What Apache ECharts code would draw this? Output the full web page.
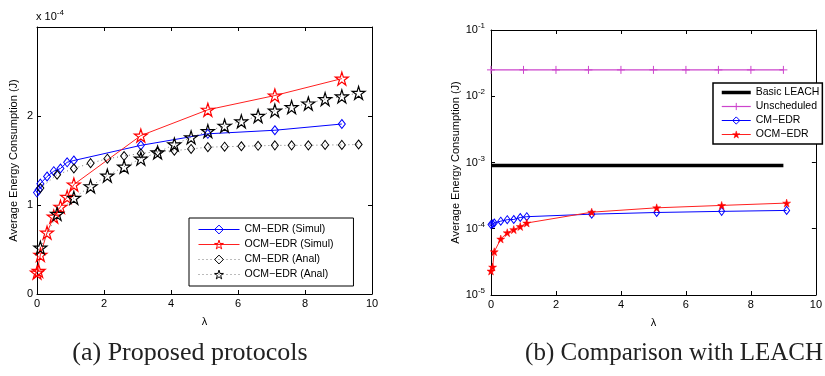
<!DOCTYPE html>
<html><head><meta charset="utf-8">
<script src="https://cdn.jsdelivr.net/npm/echarts@6/dist/echarts.min.js"></script>
<style>html,body{margin:0;padding:0;background:#fff}#c{width:825px;height:376px}</style>
</head><body><div id="c"></div>
<script>
// ---------- data (left panel values in units of 1e-4 J) ----------
const simX      = [0, 0.05, 0.1, 0.3, 0.5, 0.7, 0.9, 1.1, 3.1, 5.1, 7.1, 9.1];
const cmSimul   = [1.14, 1.17, 1.24, 1.32, 1.38, 1.41, 1.48, 1.50, 1.67, 1.80, 1.84, 1.91];
const ocmSimul  = [0.24, 0.26, 0.44, 0.69, 0.87, 0.98, 1.09, 1.23, 1.78, 2.07, 2.23, 2.42];
const analX     = [0.1, 0.6, 1.1, 1.6, 2.1, 2.6, 3.1, 3.6, 4.1, 4.6, 5.1, 5.6, 6.1, 6.6, 7.1, 7.6, 8.1, 8.6, 9.1, 9.6];
const cmAnal    = [1.19, 1.34, 1.41, 1.47, 1.52, 1.55, 1.58, 1.60, 1.61, 1.63, 1.65, 1.655, 1.66, 1.665, 1.67, 1.67, 1.67, 1.675, 1.675, 1.68];
const ocmAnal   = [0.52, 0.90, 1.08, 1.21, 1.33, 1.43, 1.52, 1.59, 1.68, 1.76, 1.83, 1.89, 1.94, 2.00, 2.06, 2.10, 2.14, 2.19, 2.22, 2.26];
// right panel (J)
const cmpX        = [0, 1, 2, 3, 4, 5, 6, 7, 8, 9];
const leachVals   = [9.0e-4, 9.0e-4, 9.0e-4, 9.0e-4, 9.0e-4, 9.0e-4, 9.0e-4, 9.0e-4, 9.0e-4, 9.0e-4];
const unschedVals = [0.025, 0.025, 0.025, 0.025, 0.025, 0.025, 0.025, 0.025, 0.025, 0.025];
const rCmVals     = [1.16e-4, 1.18e-4, 1.22e-4, 1.30e-4, 1.37e-4, 1.38e-4, 1.48e-4, 1.52e-4, 1.66e-4, 1.76e-4, 1.83e-4, 1.89e-4];
const rOcmVals    = [2.3e-5, 2.64e-5, 4.5e-5, 7.0e-5, 8.7e-5, 9.7e-5, 1.08e-4, 1.22e-4, 1.78e-4, 2.07e-4, 2.25e-4, 2.44e-4];
const leftYTicks  = [0, 1, 2];

const zip = (xs, ys) => xs.map((x, i) => [x, ys[i]]);
const STAR = 'path://M50,0L61.2,35.4L98.1,35.4L68.2,57.3L79.4,92.7L50,70.8L20.6,92.7L31.8,57.3L1.9,35.4L38.8,35.4Z';
const FONT = 'Liberation Sans';
const CLEAR = 'rgba(0,0,0,0)';
const sup = {b: {fontSize: 11, fontFamily: FONT, color: '#000'}, s: {fontSize: 8, fontFamily: FONT, color: '#000', padding: [0, 0, 8, 0]}};

const chart = echarts.init(document.getElementById('c'), null, {renderer: 'canvas'});
const axisBase = {
  axisLine: {show: true, onZero: false, lineStyle: {color: '#000', width: 1}},
  axisTick: {show: true, inside: true, length: 4, lineStyle: {color: '#000'}},
  splitLine: {show: false},
  axisLabel: {color: '#000', fontSize: 11, fontFamily: FONT}
};
const mirror = (o) => Object.assign({}, axisBase, {axisLabel: {show: false}}, o);
const nameStyle = {fontSize: 11, fontFamily: FONT, color: '#000'};

chart.setOption({
  animation: false,
  grid: [
    {left: 37, top: 27, width: 335, height: 267},
    {left: 491, top: 30, width: 335, height: 265}
  ],
  xAxis: [
    Object.assign({}, axisBase, {gridIndex: 0, type: 'value', min: 0, max: 10, interval: 2, position: 'bottom',
      name: 'λ', nameLocation: 'middle', nameGap: 22, nameTextStyle: nameStyle,
      axisLabel: {color: '#000', fontSize: 11, fontFamily: FONT, margin: 4}}),
    mirror({gridIndex: 0, type: 'value', min: 0, max: 10, interval: 2, position: 'top'}),
    Object.assign({}, axisBase, {gridIndex: 1, type: 'value', min: 0, max: 10, interval: 2, position: 'bottom',
      name: 'λ', nameLocation: 'middle', nameGap: 22, nameTextStyle: nameStyle,
      axisLabel: {color: '#000', fontSize: 11, fontFamily: FONT, margin: 4}}),
    mirror({gridIndex: 1, type: 'value', min: 0, max: 10, interval: 2, position: 'top'})
  ],
  yAxis: [
    Object.assign({}, axisBase, {gridIndex: 0, type: 'value', min: 0, max: 3, interval: 1, position: 'left',
      name: 'Average Energy Consumption (J)', nameLocation: 'middle', nameGap: 18, nameTextStyle: nameStyle,
      axisLabel: {color: '#000', fontSize: 11, fontFamily: FONT, margin: 4,
        formatter: v => leftYTicks.indexOf(v) >= 0 ? String(v) : ''}}),
    mirror({gridIndex: 0, type: 'value', min: 0, max: 3, interval: 1, position: 'right'}),
    Object.assign({}, axisBase, {gridIndex: 1, type: 'log', logBase: 10, min: 1e-5, max: 1e-1, position: 'left',
      name: 'Average Energy Consumption (J)', nameLocation: 'middle', nameGap: 26, nameTextStyle: nameStyle,
      axisLabel: {margin: 6, formatter: v => '{b|10}{s|' + Math.round(Math.log10(v)) + '}', rich: sup}}),
    mirror({gridIndex: 1, type: 'log', logBase: 10, min: 1e-5, max: 1e-1, position: 'right'})
  ],
  legend: [
    {orient: 'vertical', left: 189, top: 218, itemWidth: 41, itemHeight: 11, itemGap: 4,
     padding: [6, 20, 6, 9], borderColor: '#000', borderWidth: 1, backgroundColor: '#fff',
     textStyle: {fontSize: 10.5, fontFamily: FONT, color: '#000'},
     data: [
       {name: 'CM−EDR (Simul)', itemStyle: {color: CLEAR, borderColor: '#0000ff', borderWidth: 1}, lineStyle: {width: 1}},
       {name: 'OCM−EDR (Simul)', itemStyle: {color: CLEAR, borderColor: '#ff0000', borderWidth: 1}, lineStyle: {width: 1}},
       {name: 'CM−EDR (Anal)', itemStyle: {color: CLEAR, borderColor: '#000', borderWidth: 1}, lineStyle: {width: 1}},
       {name: 'OCM−EDR (Anal)', itemStyle: {color: CLEAR, borderColor: '#000', borderWidth: 1}, lineStyle: {width: 1}}
     ]},
    {orient: 'vertical', left: 713, top: 83, itemWidth: 29, itemHeight: 9, itemGap: 3,
     padding: [4, 3, 4, 7], borderColor: '#000', borderWidth: 1.5, backgroundColor: '#fff',
     textStyle: {fontSize: 10.5, fontFamily: FONT, color: '#000'},
     data: [
       {name: 'Basic LEACH', itemStyle: {color: CLEAR, borderColor: CLEAR, borderWidth: 0, opacity: 0}, lineStyle: {width: 3.5}},
       {name: 'Unscheduled', itemStyle: {color: CLEAR, borderColor: '#cc44cc', borderWidth: 1}, lineStyle: {width: 1.2}},
       {name: 'CM−EDR', itemStyle: {color: CLEAR, borderColor: '#0000ff', borderWidth: 1}, lineStyle: {width: 1}},
       {name: 'OCM−EDR', itemStyle: {color: '#ff0000', borderColor: '#ff0000', borderWidth: 0.5}, lineStyle: {width: 1}}
     ]}
  ],
  series: [
    {name: 'CM−EDR (Simul)', type: 'line', xAxisIndex: 0, yAxisIndex: 0, data: zip(simX, cmSimul),
     symbol: 'diamond', symbolSize: [7, 9], lineStyle: {color: '#0000ff', width: 1},
     itemStyle: {color: CLEAR, borderColor: '#0000ff', borderWidth: 1}},
    {name: 'OCM−EDR (Simul)', type: 'line', xAxisIndex: 0, yAxisIndex: 0, data: zip(simX, ocmSimul),
     symbol: STAR, symbolSize: 13, lineStyle: {color: '#ff2020', width: 1},
     itemStyle: {color: CLEAR, borderColor: '#ff0000', borderWidth: 1.2}},
    {name: 'CM−EDR (Anal)', type: 'line', xAxisIndex: 0, yAxisIndex: 0, data: zip(analX, cmAnal),
     symbol: 'diamond', symbolSize: [7, 9], lineStyle: {color: '#777', width: 1, type: [1, 3]},
     itemStyle: {color: CLEAR, borderColor: '#000', borderWidth: 1}},
    {name: 'OCM−EDR (Anal)', type: 'line', xAxisIndex: 0, yAxisIndex: 0, data: zip(analX, ocmAnal),
     symbol: STAR, symbolSize: 13, lineStyle: {color: '#777', width: 1, type: [1, 3]},
     itemStyle: {color: CLEAR, borderColor: '#000', borderWidth: 1.2}},

    {name: 'Basic LEACH', type: 'line', xAxisIndex: 2, yAxisIndex: 2, data: zip(cmpX, leachVals),
     symbol: 'none', lineStyle: {color: '#000', width: 3.5}, itemStyle: {color: '#000'}},
    {name: 'Unscheduled', type: 'line', xAxisIndex: 2, yAxisIndex: 2, data: zip(cmpX, unschedVals),
     symbol: 'path://M0,5L10,5M5,0L5,10', symbolSize: 8, lineStyle: {color: '#cc44cc', width: 1.2},
     itemStyle: {color: CLEAR, borderColor: '#cc44cc', borderWidth: 1}},
    {name: 'CM−EDR', type: 'line', xAxisIndex: 2, yAxisIndex: 2, data: zip(simX, rCmVals),
     symbol: 'diamond', symbolSize: [6, 8], lineStyle: {color: '#0000ff', width: 1},
     itemStyle: {color: CLEAR, borderColor: '#0000ff', borderWidth: 1}},
    {name: 'OCM−EDR', type: 'line', xAxisIndex: 2, yAxisIndex: 2, data: zip(simX, rOcmVals),
     symbol: STAR, symbolSize: 8, lineStyle: {color: '#ff2020', width: 1},
     itemStyle: {color: '#ff0000', borderColor: '#ff0000', borderWidth: 0.5}}
  ],
  graphic: [
    {type: 'text', left: 36, top: 9, style: {text: 'x 10{s|-4}', font: '11px "Liberation Sans"', fill: '#000',
      rich: {s: {fontSize: 8, fontFamily: FONT, fill: '#000', padding: [0, 0, 8, 0]}}}},
    {type: 'text', x: 190, y: 353, style: {text: '(a) Proposed protocols', font: '26px "Liberation Serif"', fill: '#222',
      textAlign: 'center', textVerticalAlign: 'middle'}},
    {type: 'text', x: 823, y: 353, style: {text: '(b) Comparison with LEACH', font: '25px "Liberation Serif"', fill: '#222',
      textAlign: 'right', textVerticalAlign: 'middle'}}
  ]
});
</script></body></html>
